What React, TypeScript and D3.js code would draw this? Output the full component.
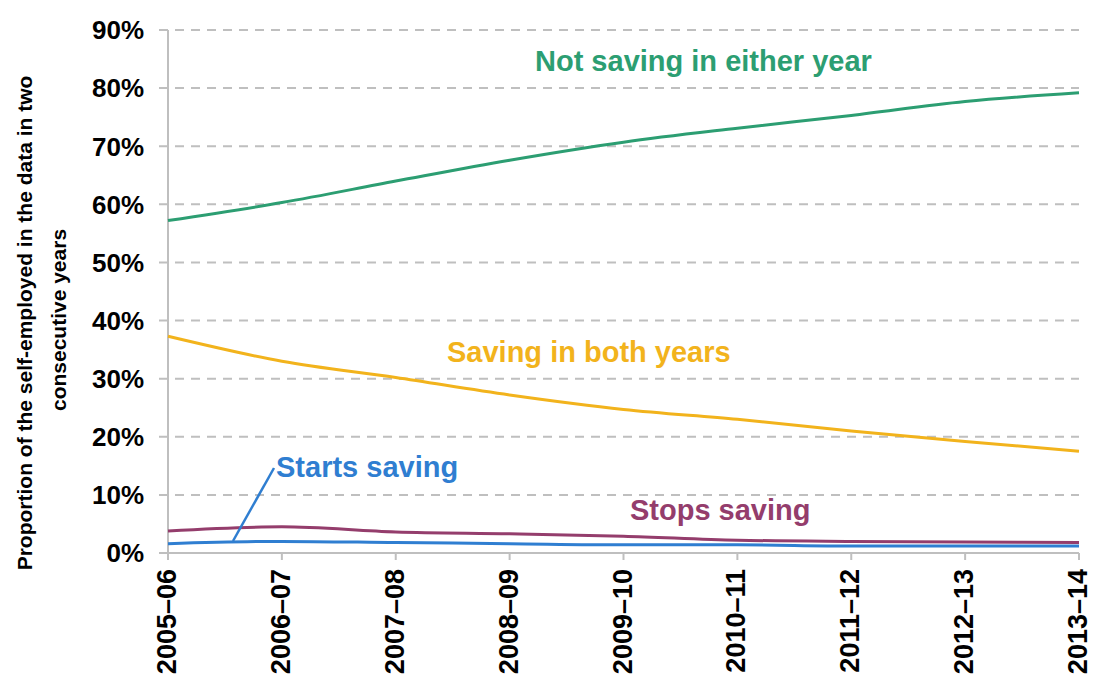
import React from "react";
import * as d3 from "d3";

const categories = ["2005–06", "2006–07", "2007–08", "2008–09", "2009–10", "2010–11", "2011–12", "2012–13", "2013–14"];
const notSaving = [57.2, 60.3, 64.0, 67.6, 70.7, 73.1, 75.3, 77.7, 79.2];
const savingBoth = [37.3, 33.0, 30.2, 27.2, 24.7, 23.0, 21.0, 19.2, 17.5];
const stopsSaving = [3.8, 4.5, 3.6, 3.3, 2.9, 2.2, 2.0, 1.9, 1.8];
const startsSaving = [1.6, 2.0, 1.8, 1.6, 1.4, 1.4, 1.2, 1.2, 1.2];
const yTicks = [0, 10, 20, 30, 40, 50, 60, 70, 80, 90];

const series = [
  { name: "Stops saving", values: stopsSaving, color: "#943D6C" },
  { name: "Starts saving", values: startsSaving, color: "#2F7ED1" },
  { name: "Saving in both years", values: savingBoth, color: "#F2B31C" },
  { name: "Not saving in either year", values: notSaving, color: "#2C9E72" },
];

const W = 1093, H = 675;
const left = 168, right = 1079, top = 30, bottom = 553;
const FONT = "'Liberation Sans', Arial, sans-serif";

export default function App() {
  const x = d3.scalePoint<string>().domain(categories).range([left, right]);
  const y = d3.scaleLinear().domain([0, 90]).range([bottom, top]);
  const line = (vals: number[]) =>
    d3.line<number>()
      .x((_, i) => x(categories[i]) as number)
      .y((d) => y(d))
      .curve(d3.curveMonotoneX)(vals) as string;

  return (
    <svg width={W} height={H} style={{ position: "absolute", left: 0, top: 0, background: "#fff" }} fontFamily={FONT}>
      {/* gridlines */}
      {yTicks.filter((t) => t > 0).map((t) => (
        <line key={t} x1={left - 9} x2={right} y1={y(t)} y2={y(t)} stroke="#BFBFBF" strokeWidth={2} strokeDasharray="9,7" />
      ))}
      {/* y axis */}
      <line x1={left} x2={left} y1={top} y2={bottom} stroke="#BFBFBF" strokeWidth={2} />
      <line x1={left - 9} x2={left} y1={bottom} y2={bottom} stroke="#BFBFBF" strokeWidth={2} />
      {/* x axis */}
      <line x1={left} x2={right} y1={bottom} y2={bottom} stroke="#BFBFBF" strokeWidth={2} />
      {categories.map((c) => (
        <line key={c} x1={x(c)} x2={x(c)} y1={bottom} y2={bottom + 7} stroke="#BFBFBF" strokeWidth={2} />
      ))}
      {/* y tick labels */}
      {yTicks.map((t) => (
        <text key={t} x={left - 24} y={y(t)} dy="0.36em" textAnchor="end" fontSize={26} fontWeight="bold" fill="#000">
          {t}%
        </text>
      ))}
      {/* x tick labels */}
      {categories.map((c) => (
        <text key={c} transform={`translate(${(x(c) as number) + 8},${bottom + 16}) rotate(-90)`} textAnchor="end" fontSize={27} fontWeight="bold" fill="#000">
          {c}
        </text>
      ))}
      {/* y axis title */}
      <text transform={`translate(32,323) rotate(-90)`} textAnchor="middle" fontSize={21} fontWeight="bold" fill="#000">
        Proportion of the self-employed in the data in two
      </text>
      <text transform={`translate(66,320) rotate(-90)`} textAnchor="middle" fontSize={21} fontWeight="bold" fill="#000">
        consecutive years
      </text>
      {/* lines */}
      {series.map((s) => (
        <path key={s.name} d={line(s.values)} fill="none" stroke={s.color} strokeWidth={3} />
      ))}
      {/* leader line for Starts saving */}
      <line x1={233} x2={274} y1={541} y2={468} stroke="#2F7ED1" strokeWidth={2.5} />
      {/* series labels */}
      <text x={535} y={71} fontSize={29} fontWeight="bold" fill="#2C9E72">Not saving in either year</text>
      <text x={447} y={362} fontSize={29} fontWeight="bold" fill="#F2B31C">Saving in both years</text>
      <text x={276} y={477} fontSize={29} fontWeight="bold" fill="#2F7ED1">Starts saving</text>
      <text x={630} y={520} fontSize={29} fontWeight="bold" fill="#943D6C">Stops saving</text>
    </svg>
  );
}
